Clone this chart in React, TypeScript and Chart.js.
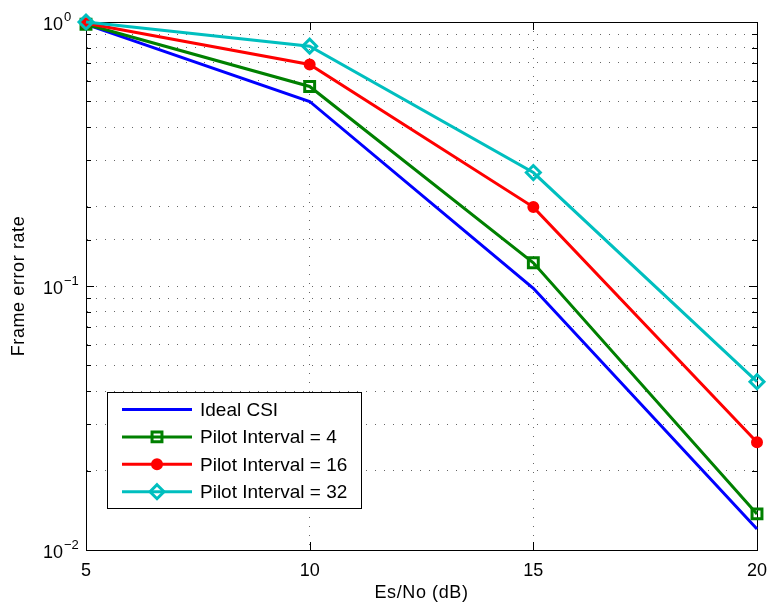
import React, { useEffect, useRef } from 'react';
import { Chart, registerables } from 'chart.js';

Chart.register(...registerables);

// ---- data ----
const esNo = [5, 10, 15, 20];
const idealCSI = [0.98, 0.5, 0.098, 0.012];
const pilot4 = [0.98, 0.57, 0.1225, 0.0137];
const pilot16 = [0.99, 0.69, 0.199, 0.0256];
const pilot32 = [1.0, 0.81, 0.269, 0.0434];
const seriesLabels = ['Ideal CSI', 'Pilot Interval = 4', 'Pilot Interval = 16', 'Pilot Interval = 32'];
const seriesColors = ['#0000ff', '#008000', '#ff0000', '#00bfbf'];
const seriesMarkers = ['none', 'rect', 'circle', 'rectRot'];
const xTickValues = [5, 10, 15, 20];
const yDecades = [1, 0.1, 0.01];
const yExponents = ['0', '\u22121', '\u22122'];
const xTitle = 'Es/No (dB)';
const yTitle = 'Frame error rate';

const FONT = '"Liberation Sans", Arial, Helvetica, sans-serif';

function drawMarker(ctx: CanvasRenderingContext2D, kind: string, x: number, y: number, color: string) {
  ctx.save();
  ctx.strokeStyle = color;
  ctx.fillStyle = color;
  ctx.lineWidth = 3;
  ctx.beginPath();
  if (kind === 'rect') {
    const s = 7 * Math.SQRT1_2;
    ctx.rect(x - s, y - s, 2 * s, 2 * s);
    ctx.stroke();
  } else if (kind === 'circle') {
    ctx.lineWidth = 2;
    ctx.arc(x, y, 5, 0, Math.PI * 2);
    ctx.fill();
    ctx.stroke();
  } else if (kind === 'rectRot') {
    const r = 7;
    ctx.moveTo(x, y - r);
    ctx.lineTo(x + r, y);
    ctx.lineTo(x, y + r);
    ctx.lineTo(x - r, y);
    ctx.closePath();
    ctx.stroke();
  }
  ctx.restore();
}

const decorPlugin = {
  id: 'matlabDecor',
  beforeDatasetsDraw(chart: any) {
    const { ctx, chartArea } = chart;
    const { left, right, top, bottom } = chartArea;
    const xs = chart.scales.x;
    const ys = chart.scales.y;
    ctx.save();
    ctx.strokeStyle = '#000';
    ctx.lineWidth = 1;
    ctx.strokeRect(Math.round(left) + 0.5, Math.round(top) + 0.5, Math.round(right - left), Math.round(bottom - top));
    ys.ticks.forEach((t: any) => {
      const py = Math.round(ys.getPixelForValue(t.value)) + 0.5;
      const len = t.major ? 8 : 5;
      ctx.beginPath();
      ctx.moveTo(left, py);
      ctx.lineTo(left + len, py);
      ctx.moveTo(right, py);
      ctx.lineTo(right - len, py);
      ctx.stroke();
    });
    xTickValues.forEach((v) => {
      const px = Math.round(xs.getPixelForValue(v)) + 0.5;
      ctx.beginPath();
      ctx.moveTo(px, bottom);
      ctx.lineTo(px, bottom - 8);
      ctx.moveTo(px, top);
      ctx.lineTo(px, top + 8);
      ctx.stroke();
    });
    ctx.restore();
  },
  afterDraw(chart: any) {
    const { ctx, chartArea } = chart;
    const { left, right, top, bottom } = chartArea;
    const xs = chart.scales.x;
    const ys = chart.scales.y;
    ctx.save();
    ctx.fillStyle = '#000';
    ctx.font = `18px ${FONT}`;
    ctx.textAlign = 'center';
    ctx.textBaseline = 'alphabetic';
    xTickValues.forEach((v) => {
      ctx.fillText(String(v), xs.getPixelForValue(v), bottom + 26);
    });
    yDecades.forEach((v, i) => {
      const py = ys.getPixelForValue(v);
      ctx.font = `18px ${FONT}`;
      ctx.textAlign = 'right';
      ctx.fillText('10', left - 23, py + 8);
      ctx.font = `13px ${FONT}`;
      ctx.textAlign = 'left';
      ctx.fillText(yExponents[i], left - 22, py - 1.5);
    });
    ctx.font = `18px ${FONT}`;
    (ctx as any).letterSpacing = '0.6px';
    ctx.textAlign = 'center';
    ctx.fillText(xTitle, (left + right) / 2, bottom + 48);
    ctx.save();
    ctx.translate(19, (top + bottom) / 2);
    ctx.rotate(-Math.PI / 2);
    ctx.textBaseline = 'middle';
    ctx.fillText(yTitle, 0, 0);
    ctx.restore();
    (ctx as any).letterSpacing = '0px';

    const bx = left + 21;
    const by = top + 370;
    const bw = 254;
    const bh = 116;
    ctx.fillStyle = '#fff';
    ctx.fillRect(bx, by, bw, bh);
    ctx.strokeStyle = '#000';
    ctx.lineWidth = 1;
    ctx.strokeRect(Math.round(bx) + 0.5, Math.round(by) + 0.5, bw, bh);
    seriesLabels.forEach((label, i) => {
      const cy = by + 17.5 + i * 27.4;
      const color = seriesColors[i];
      ctx.strokeStyle = color;
      ctx.lineWidth = 3;
      ctx.beginPath();
      ctx.moveTo(bx + 15, cy);
      ctx.lineTo(bx + 85, cy);
      ctx.stroke();
      drawMarker(ctx, seriesMarkers[i], bx + 50, cy, color);
      ctx.fillStyle = '#000';
      ctx.font = `19px ${FONT}`;
      ctx.textAlign = 'left';
      ctx.textBaseline = 'middle';
      ctx.fillText(label, bx + 93, cy + 1);
    });
    ctx.restore();
  },
};

export default function App() {
  const canvasRef = useRef<HTMLCanvasElement | null>(null);

  useEffect(() => {
    document.body.style.margin = '0';
    const canvas = canvasRef.current;
    if (!canvas) return;
    const mk = (i: number, values: number[], order: number, extra: any) => ({
      label: seriesLabels[i],
      data: esNo.map((x, k) => ({ x, y: values[k] })),
      borderColor: seriesColors[i],
      backgroundColor: 'rgba(0,0,0,0)',
      pointBorderColor: seriesColors[i],
      borderWidth: 3,
      tension: 0,
      clip: false,
      order,
      ...extra,
    });
    const chart = new Chart(canvas, {
      type: 'line',
      data: {
        datasets: [
          mk(0, idealCSI, 3, { pointRadius: 0 }),
          mk(1, pilot4, 2, { pointStyle: 'rect', pointRadius: 7, pointBorderWidth: 3, pointBackgroundColor: 'rgba(0,0,0,0)' }),
          mk(2, pilot16, 1, { pointStyle: 'circle', pointRadius: 5, pointBorderWidth: 2, pointBackgroundColor: seriesColors[2] }),
          mk(3, pilot32, 0, { pointStyle: 'rectRot', pointRadius: 7, pointBorderWidth: 3, pointBackgroundColor: 'rgba(0,0,0,0)' }),
        ],
      },
      options: {
        animation: false,
        responsive: false,
        events: [],
        layout: { padding: { left: 86, right: 13, top: 22, bottom: 57 } },
        plugins: { legend: { display: false }, tooltip: { enabled: false } },
        scales: {
          x: {
            type: 'linear',
            min: 5,
            max: 20,
            ticks: { display: false, stepSize: 5 },
            title: { display: false },
            grid: { drawTicks: false, color: 'rgba(0,0,0,0.6)', lineWidth: 1 },
            border: { display: true, color: '#000', width: 1, dash: [1, 8] },
          },
          y: {
            type: 'logarithmic',
            min: 0.01,
            max: 1,
            ticks: { display: false },
            title: { display: false },
            grid: { drawTicks: false, color: 'rgba(0,0,0,0.6)', lineWidth: 1 },
            border: { display: true, color: '#000', width: 1, dash: [1, 8] },
          },
        },
      },
      plugins: [decorPlugin],
    });
    return () => chart.destroy();
  }, []);

  return (
    <div style={{ width: 770, height: 607 }}>
      <canvas ref={canvasRef} width={770} height={607} style={{ display: 'block' }} />
    </div>
  );
}
